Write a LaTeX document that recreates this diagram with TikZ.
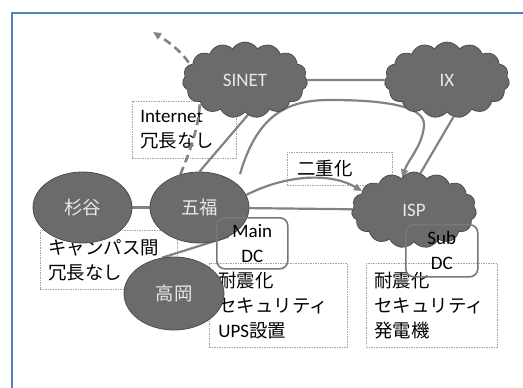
\documentclass[tikz,border=0pt]{standalone}
\usepackage{fontspec}
\setmainfont{Carlito}
\newfontfamily\jp[Scale=0.97]{Noto Sans CJK JP}
\usetikzlibrary{shapes.geometric,shapes.symbols,arrows.meta,calc}
\pgfdeclarelayer{boxes}
\pgfdeclarelayer{lines}
\pgfsetlayers{boxes,lines,main}
\definecolor{frameblue}{HTML}{4F81BD}
\definecolor{cloudgray}{HTML}{6B6B6B}
\definecolor{cloudedge}{HTML}{4D4D4D}
\definecolor{linegray}{HTML}{828282}
\definecolor{boxedge}{HTML}{A6A6A6}
\definecolor{dcedge}{HTML}{777777}
\definecolor{lighttext}{HTML}{E8E8E8}
\begin{document}
\begin{tikzpicture}[x=1pt,y=-1pt,
  txt/.style={font=\fontsize{19}{25}\selectfont},
  netcloud/.style={cloud, cloud puffs=15, cloud puff arc=115, cloud ignores aspect,
    minimum width=125pt, minimum height=76pt, inner sep=0pt, fill=cloudgray,
    draw=cloudedge, line width=0.8pt, text=lighttext, txt},
  campus/.style={ellipse, minimum width=99pt, minimum height=71pt, inner sep=0pt,
    fill=cloudgray, draw=cloudedge, line width=0.8pt, text=lighttext, txt},
  note/.style={draw=boxedge, line width=0.8pt, dash pattern=on 1.5pt off 1pt,
    anchor=north west, inner xsep=8pt, inner ysep=0pt, align=left, txt, text=black},
  dcbox/.style={draw=dcedge, line width=1.6pt, rounded corners=8pt, anchor=north west,
    inner sep=0pt, align=center, txt, text=black},
  link/.style={draw=linegray, line width=2.2pt},
  dashlink/.style={draw=linegray, line width=2.6pt, dash pattern=on 8pt off 5pt},
  tip/.style={-{Triangle[length=8pt,width=7pt]}}
]
\useasboundingbox (0,0) rectangle (523,388);
\draw[frameblue, line width=2pt] (12,400) -- (12,13) -- (540,13);

% clouds and campuses
\node[netcloud] (SINET) at (245,80) {SINET};
\node[netcloud] (IX) at (447,80) {IX};
\node[netcloud] (ISP) at (414,210) {ISP};
\node[campus] (sugi) at (82.5,207.5) {\jp 杉谷};
\node[campus] (gofuku) at (199.5,207.5) {\jp 五福};
\node[campus, minimum width=100pt, minimum height=73pt] (takaoka) at (174,293.5) {\jp 高岡};
\coordinate (inetend) at (153,32);

% data center boxes
\node[dcbox, minimum width=71pt, minimum height=51pt] (maindc) at (216,217) {Main\\DC};
\node[dcbox, minimum width=72pt, minimum height=52pt] (subdc) at (405,224) {Sub\\DC};

\begin{pgfonlayer}{boxes}
\node[note, minimum width=104pt, minimum height=57pt, text width=88pt] (inet) at (132,101) {Internet\\{\jp 冗長なし}};
\node[note, minimum width=105pt, minimum height=33pt, text width=85pt, inner xsep=10pt] (dual) at (287,152) {{\jp 二重化}};
\node[note, minimum width=137pt, minimum height=59pt, text width=121pt] (campusnote) at (40,230) {{\jp キャンパス間}\\{\jp 冗長なし}};
\node[note, minimum width=138pt, minimum height=84pt, text width=120pt, inner xsep=9pt] (mainnote) at (209,263) {{\jp 耐震化}\\{\jp セキュリティ}\\UPS{\jp 設置}};
\node[note, minimum width=131pt, minimum height=84pt, text width=115pt, inner xsep=8pt] (subnote) at (366,263) {{\jp 耐震化}\\{\jp セキュリティ}\\{\jp 発電機}};
\end{pgfonlayer}

\begin{pgfonlayer}{lines}
\draw[link] (SINET) -- (IX);
\draw[link] (sugi) -- (gofuku);
\draw[link] (gofuku) -- (ISP);
\draw[link] ([xshift=5pt]SINET.south) -- (gofuku.north);
\draw[link] (gofuku.-45) -- (takaoka.108);
\draw[link,tip] (gofuku.15) .. controls (285,175) and (330,172) .. (ISP.160);
\draw[link,tip] ($(gofuku.40)+(8,-6)$) .. controls (258,112) and (290,100) .. (330,100)
   .. controls (380,100) and (425,105) .. (424,125)
   .. controls (423,145) and (408,160) .. (ISP.110);
\draw[link] (IX.-80) -- (ISP.80);
\draw[dashlink,tip] (gofuku.120) .. controls (212,100) and (205,65) .. (inetend);
\end{pgfonlayer}
\end{tikzpicture}
\end{document}
